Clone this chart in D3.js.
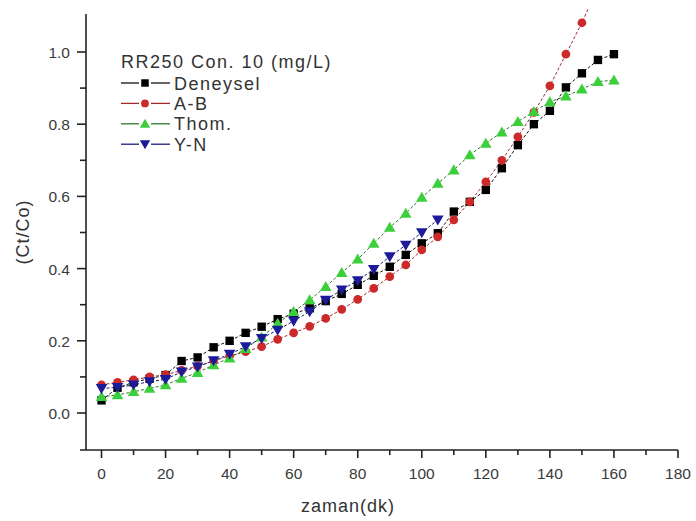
<!DOCTYPE html>
<html><head><meta charset="utf-8">
<script src="https://cdn.jsdelivr.net/npm/d3@7"></script>
<style>
html,body{margin:0;padding:0;background:#fff;}
svg{display:block;font-family:"Liberation Sans",Arial,sans-serif;}
</style></head>
<body>
<svg id="chart" width="696" height="521"></svg>
<script>
// ---- data ----
const timeMin = [0,5,10,15,20,25,30,35,40,45,50,55,60,65,70,75,80,85,90,95,100,105,110,115,120,125,130,135,140,145,150,155,160];
const deneysel = [0.035,0.070,0.085,0.095,0.105,0.144,0.154,0.182,0.200,0.222,0.239,0.260,0.275,0.290,0.310,0.330,0.355,0.380,0.405,0.438,0.470,0.498,0.558,0.585,0.618,0.678,0.742,0.800,0.837,0.902,0.941,0.978,0.994];
const ab = [0.078,0.085,0.092,0.100,0.106,0.118,0.130,0.144,0.158,0.170,0.184,0.204,0.222,0.240,0.262,0.287,0.315,0.345,0.378,0.410,0.452,0.488,0.535,0.585,0.640,0.700,0.765,0.833,0.906,0.994,1.081,1.180];
const thom = [0.045,0.050,0.059,0.068,0.078,0.096,0.112,0.133,0.152,0.178,0.210,0.248,0.281,0.313,0.350,0.389,0.426,0.470,0.514,0.553,0.597,0.636,0.673,0.715,0.747,0.778,0.807,0.835,0.862,0.878,0.897,0.918,0.922];
const yn = [0.068,0.071,0.078,0.087,0.093,0.114,0.128,0.145,0.163,0.184,0.207,0.230,0.255,0.281,0.313,0.341,0.367,0.398,0.433,0.465,0.500,0.535];
const seriesNames = ["Deneysel","A-B","Thom.","Y-N"];
const legendTitle = "RR250 Con. 10 (mg/L)";
const xTicks = [0,20,40,60,80,100,120,140,160,180];
const xMinor = [10,30,50,70,90,110,130,150,170];
const yTicks = [0.0,0.2,0.4,0.6,0.8,1.0];
const yMinor = [0.1,0.3,0.5,0.7,0.9];

const svg = d3.select("#chart");
const x = d3.scaleLinear().domain([-5,180]).range([85.5,678]);
const y = d3.scaleLinear().domain([-0.1,1.1]).range([449.1,15.9]);

const styles = [
  {vals:deneysel, color:"#000000", line:"#111111", sym:d3.symbolSquare, size:70, rot:0},
  {vals:ab, color:"#cc2a2a", line:"#a02a2a", sym:d3.symbolCircle, size:60, rot:0},
  {vals:thom, color:"#3ccf3c", line:"#2a7a2a", sym:d3.symbolTriangle, size:58, rot:0},
  {vals:yn, color:"#1c1c9a", line:"#1c1c7a", sym:d3.symbolTriangle, size:58, rot:180}
];

svg.append("defs").append("clipPath").attr("id","clip")
  .append("rect").attr("x",86).attr("y",8).attr("width",610).attr("height",442);

const plot = svg.append("g").attr("clip-path","url(#clip)");

styles.forEach((s,i)=>{
  const pts = s.vals.map((v,j)=>[timeMin[j],v]);
  plot.append("path")
    .attr("d", d3.line().x(d=>x(d[0])).y(d=>y(d[1]))(pts))
    .attr("fill","none").attr("stroke",s.line).attr("stroke-width",1)
    .attr("stroke-dasharray","3,2");
});
styles.forEach((s,i)=>{
  const pts = s.vals.map((v,j)=>[timeMin[j],v]);
  plot.selectAll(".m"+i).data(pts).enter().append("path")
    .attr("d", d3.symbol().type(s.sym).size(s.size))
    .attr("transform", d=>`translate(${x(d[0])},${y(d[1]) + (s.sym===d3.symbolTriangle ? (s.rot? -1:1) : 0)}) rotate(${s.rot})`)
    .attr("fill", s.color);
});

// axes
const ax = svg.append("g").attr("stroke","#222").attr("stroke-width",1.6);
ax.append("line").attr("x1",80).attr("x2",x(180)).attr("y1",450).attr("y2",450);
ax.append("line").attr("x1",86).attr("x2",86).attr("y1",y(1.1)-2).attr("y2",450);
xTicks.forEach(t=>ax.append("line").attr("x1",x(t)).attr("x2",x(t)).attr("y1",450).attr("y2",458));
xMinor.forEach(t=>ax.append("line").attr("x1",x(t)).attr("x2",x(t)).attr("y1",450).attr("y2",455));
yTicks.forEach(t=>ax.append("line").attr("x1",77).attr("x2",86).attr("y1",y(t)).attr("y2",y(t)));
yMinor.forEach(t=>ax.append("line").attr("x1",80).attr("x2",86).attr("y1",y(t)).attr("y2",y(t)));

const lab = svg.append("g").attr("fill","#3a3a3a").attr("font-size",15.5);
xTicks.forEach(t=>lab.append("text").attr("x",x(t)).attr("y",479).attr("text-anchor","middle").text(t));
yTicks.forEach(t=>lab.append("text").attr("x",70).attr("y",y(t)+6).attr("text-anchor","end").text(t.toFixed(1)));

svg.append("text").attr("x",348).attr("y",512).attr("text-anchor","middle")
  .attr("font-size",18).attr("letter-spacing","1px").attr("fill","#333").text("zaman(dk)");
svg.append("text").attr("transform","translate(29,232) rotate(-90)").attr("text-anchor","middle")
  .attr("font-size",18).attr("letter-spacing","1px").attr("fill","#333").text("(Ct/Co)");

// legend
const lg = svg.append("g");
lg.append("text").attr("x",121).attr("y",68).attr("font-size",18).attr("letter-spacing","1.5px").attr("fill","#333").text(legendTitle);
styles.forEach((s,i)=>{
  const cy = 83 + i*20.4;
  lg.append("line").attr("x1",121).attr("x2",139).attr("y1",cy).attr("y2",cy).attr("stroke",s.line).attr("stroke-width",1.3);
  lg.append("line").attr("x1",151).attr("x2",170).attr("y1",cy).attr("y2",cy).attr("stroke",s.line).attr("stroke-width",1.3);
  lg.append("path").attr("d", d3.symbol().type(s.sym).size(s.size*0.8))
    .attr("transform",`translate(145,${cy + (s.sym===d3.symbolTriangle ? (s.rot? -1:1) : 0)}) rotate(${s.rot})`).attr("fill",s.color);
  lg.append("text").attr("x",174).attr("y",cy+6.5).attr("font-size",18).attr("letter-spacing","1.5px").attr("fill","#333").text(seriesNames[i]);
});
</script>
</body></html>
